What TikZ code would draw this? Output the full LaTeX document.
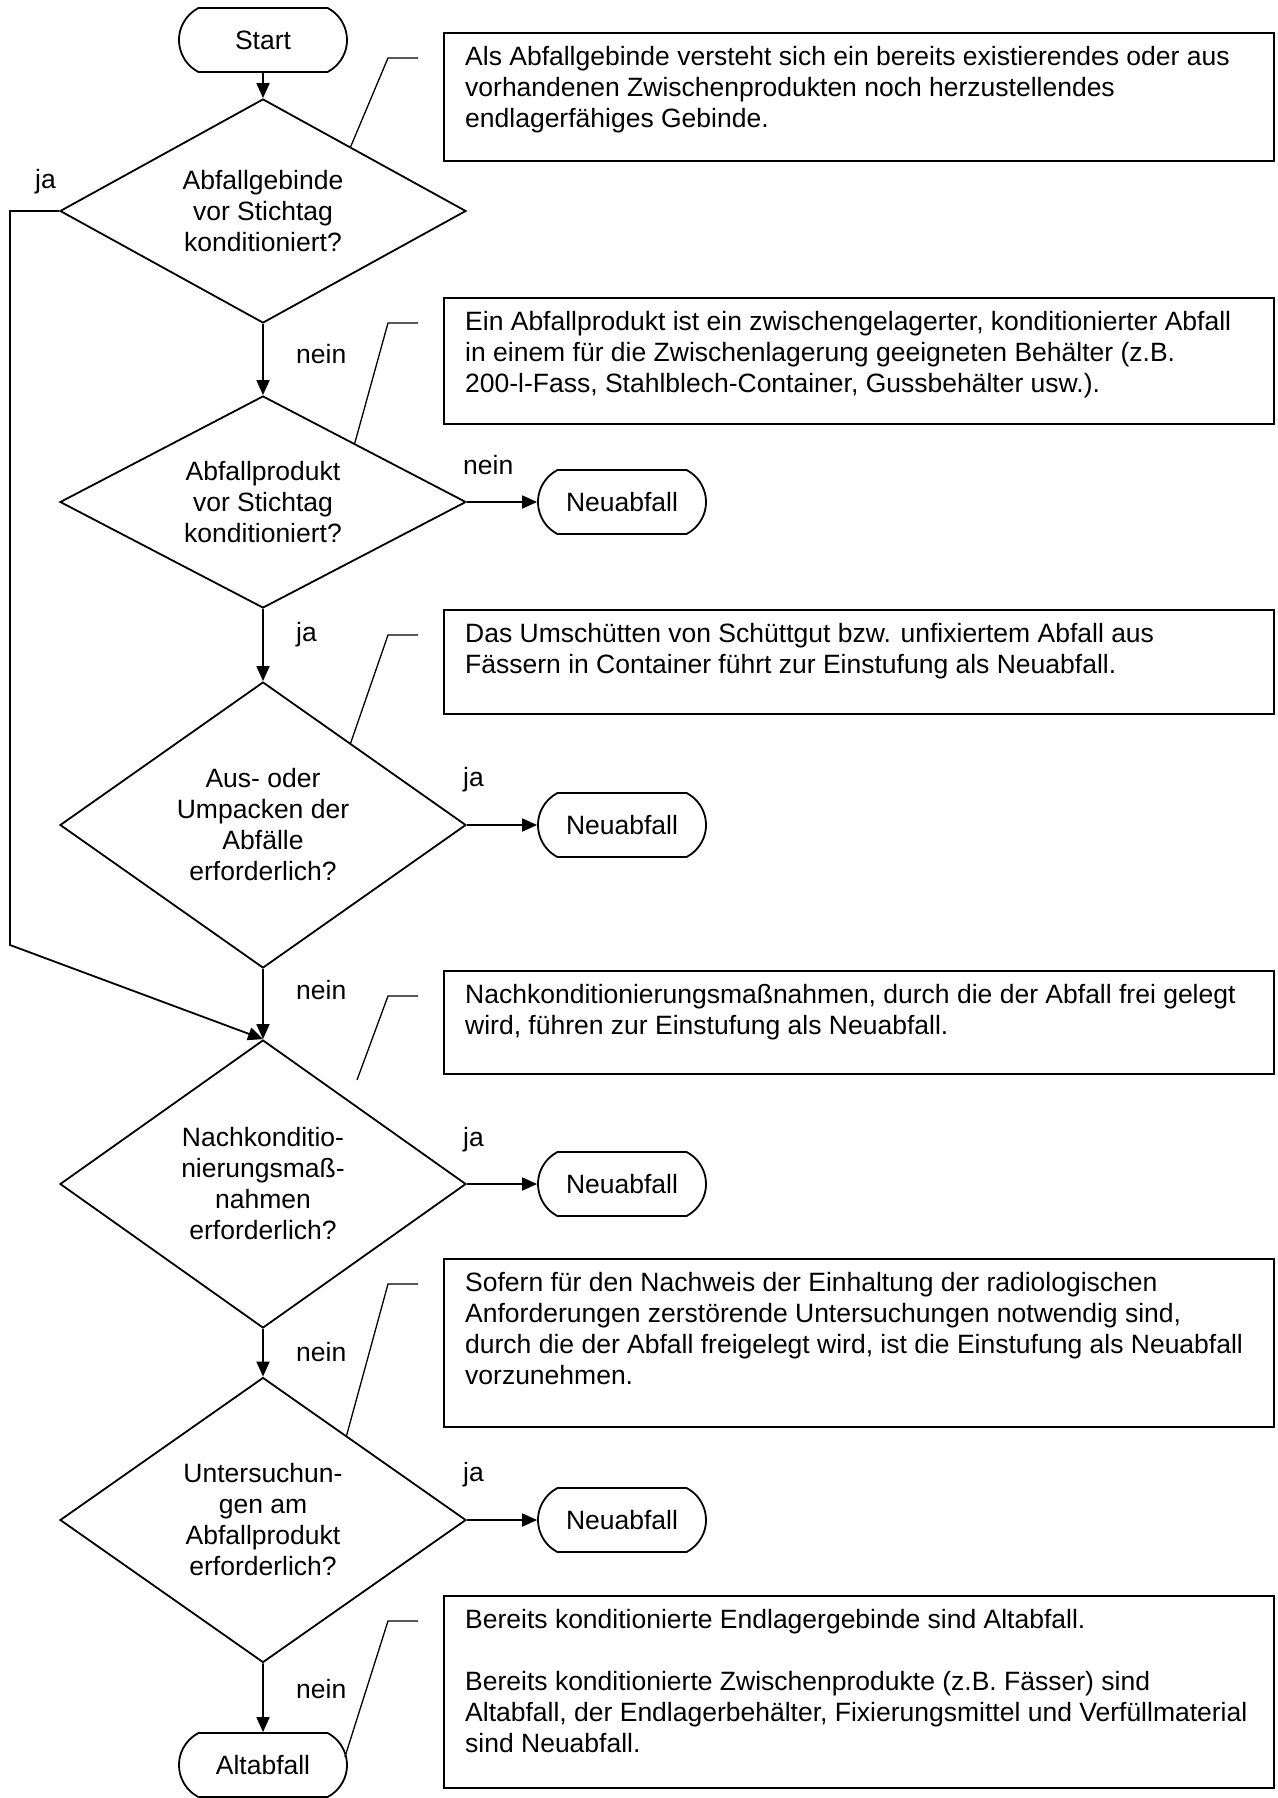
\documentclass[tikz,border=0pt]{standalone}
\usepackage{fontspec}
\setmainfont{Liberation Sans}
\usetikzlibrary{shapes.geometric,shapes.misc,arrows.meta,calc}
\newcommand\notetext[2]{\begin{minipage}[c][#1][t]{788pt}\raggedright #2\end{minipage}}
\begin{document}
\begin{tikzpicture}[x=1pt,y=-1pt,
  every node/.style={font=\fontsize{26.5}{31}\selectfont},
  term/.style={draw, line width=1.8pt, rounded rectangle, rounded rectangle arc length=125, minimum width=168pt, minimum height=64pt, inner sep=0pt},
  dec/.style={draw, line width=1.8pt, diamond, aspect=1.6, minimum width=406pt, inner sep=0pt, align=center},
  note/.style={draw, line width=2.4pt, anchor=north west, inner xsep=21pt, inner ysep=13pt},
  lab/.style={anchor=west, inner sep=0pt, text height=19pt, text depth=6pt},
  arr/.style={line width=1.8pt, -{Triangle[length=15pt,width=13pt]}},
  call/.style={line width=1.3pt},
]
\useasboundingbox (0,0) rectangle (1277,1798);
\fill[white] (0,0) rectangle (1277,1798);

% main column
\node[term] (start) at (263,40) {Start};
\node[dec, minimum height=224pt] (d1) at (263,211) {Abfallgebinde\\vor Stichtag\\konditioniert?};
\node[dec, minimum height=212pt] (d2) at (263,502) {Abfallprodukt\\vor Stichtag\\konditioniert?};
\node[dec, minimum height=286pt] (d3) at (263,825) {Aus- oder\\Umpacken der\\Abfälle\\erforderlich?};
\node[dec, minimum height=288pt] (d4) at (263,1184) {Nachkonditio-\\nierungsmaß-\\nahmen\\erforderlich?};
\node[dec, minimum height=285pt] (d5) at (263,1520) {Untersuchun-\\gen am\\Abfallprodukt\\erforderlich?};
\node[term] (alt) at (263,1765) {Altabfall};

% Neuabfall terminals
\node[term] (n1) at (622,502) {Neuabfall};
\node[term] (n2) at (622,825) {Neuabfall};
\node[term] (n3) at (622,1184) {Neuabfall};
\node[term] (n4) at (622,1520) {Neuabfall};

% note boxes
\node[note] (b1) at (443,32) {\notetext{102pt}{Als Abfallgebinde versteht sich ein bereits existierendes oder aus\\vorhandenen Zwischenprodukten noch herzustellendes\\endlagerfähiges Gebinde.}};
\node[note] (b2) at (443,297) {\notetext{100pt}{Ein Abfallprodukt ist ein zwischengelagerter, konditionierter Abfall\\in einem für die Zwischenlagerung geeigneten Behälter (z.B.\\200-l-Fass, Stahlblech-Container, Gussbehälter usw.).}};
\node[note] (b3) at (443,609) {\notetext{78pt}{Das Umschütten von Schüttgut bzw. unfixiertem Abfall aus\\Fässern in Container führt zur Einstufung als Neuabfall.}};
\node[note] (b4) at (443,970) {\notetext{77pt}{Nachkonditionierungsmaßnahmen, durch die der Abfall frei gelegt\\wird, führen zur Einstufung als Neuabfall.}};
\node[note] (b5) at (443,1258) {\notetext{142pt}{Sofern für den Nachweis der Einhaltung der radiologischen\\Anforderungen zerstörende Untersuchungen notwendig sind,\\durch die der Abfall freigelegt wird, ist die Einstufung als Neuabfall\\vorzunehmen.}};
\node[note] (b6) at (443,1595) {\notetext{166pt}{Bereits konditionierte Endlagergebinde sind Altabfall.\\[31pt]Bereits konditionierte Zwischenprodukte (z.B. Fässer) sind\\Altabfall, der Endlagerbehälter, Fixierungsmittel und Verfüllmaterial\\sind Neuabfall.}};

% labels
\node[lab] (lja1) at (35,182) {ja};
\node[lab] (lne1) at (296,357) {nein};
\node[lab] (lne2) at (463,468) {nein};
\node[lab] (lja2) at (296,635) {ja};
\node[lab] (lja3) at (463,780) {ja};
\node[lab] (lne3) at (296,993) {nein};
\node[lab] (lja4) at (463,1140) {ja};
\node[lab] (lne4) at (296,1355) {nein};
\node[lab] (lja5) at (463,1475) {ja};
\node[lab] (lne5) at (296,1692) {nein};

% main flow
\draw[arr] (start) -- (d1);
\draw[arr] (d1) -- (d2);
\draw[arr] (d2) -- (d3);
\draw[arr] (d3) -- (d4);
\draw[arr] (d4) -- (d5);
\draw[arr] (d5) -- (alt);
\draw[arr] (d2.east) -- (n1.west);
\draw[arr] (d3.east) -- (n2.west);
\draw[arr] (d4.east) -- (n3.west);
\draw[arr] (d5.east) -- (n4.west);

% ja bypass
\coordinate (jl1) at (10,211);
\coordinate (jl2) at (10,945);
\draw[arr] (d1.west) -- (jl1) -- (jl2) -- (d4.north);

% callouts
\path (d1.north) -- (d1.east) coordinate[pos=0.43] (k1e);
\path (d2.north) -- (d2.east) coordinate[pos=0.45] (k2e);
\path (d3.north) -- (d3.east) coordinate[pos=0.43] (k3e);
\coordinate (k4e) at (357,1080);
\path (d5.north) -- (d5.east) coordinate[pos=0.41] (k5e);
\coordinate (k6e) at ($(alt.east)+(-3,-8)$);
\foreach \i in {1,...,6}{
  \coordinate (k\i a) at ($(b\i.north west)+(-25,26)$);
  \coordinate (k\i b) at ($(b\i.north west)+(-55,26)$);
}
\draw[call] (k1a) -- (k1b) -- (k1e);
\draw[call] (k2a) -- (k2b) -- (k2e);
\draw[call] (k3a) -- (k3b) -- (k3e);
\draw[call] (k4a) -- (k4b) -- (k4e);
\draw[call] (k5a) -- (k5b) -- (k5e);
\draw[call] (k6a) -- (k6b) -- (k6e);
\end{tikzpicture}
\end{document}
